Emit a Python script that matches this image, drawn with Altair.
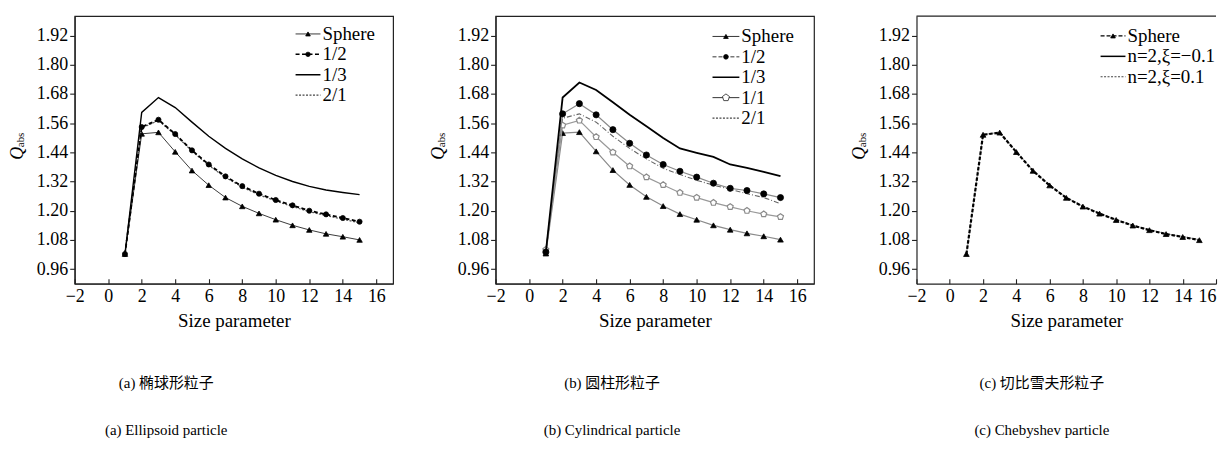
import altair as alt
import pandas as pd

# ---------------- data ----------------
size_param = list(range(1, 16))
x_ticks = [-2, 0, 2, 4, 6, 8, 10, 12, 14, 16]
y_ticks = [0.96, 1.08, 1.20, 1.32, 1.44, 1.56, 1.68, 1.80, 1.92]

# (a) ellipsoid
ell_sphere = [1.022, 1.516, 1.522, 1.442, 1.365, 1.305, 1.254, 1.218, 1.189, 1.163, 1.140, 1.121, 1.105, 1.093, 1.080]
ell_12 = [1.022, 1.544, 1.574, 1.515, 1.448, 1.390, 1.341, 1.301, 1.270, 1.244, 1.222, 1.200, 1.185, 1.170, 1.155]
ell_13 = [1.022, 1.604, 1.665, 1.624, 1.564, 1.506, 1.456, 1.413, 1.376, 1.345, 1.320, 1.300, 1.285, 1.275, 1.266]
ell_21 = [1.022, 1.540, 1.571, 1.512, 1.445, 1.386, 1.337, 1.297, 1.265, 1.240, 1.217, 1.196, 1.180, 1.165, 1.150]

# (b) cylinder
cyl_sphere = [1.024, 1.519, 1.523, 1.444, 1.367, 1.306, 1.257, 1.219, 1.186, 1.163, 1.140, 1.122, 1.107, 1.095, 1.081]
cyl_12 = [1.030, 1.598, 1.640, 1.594, 1.533, 1.477, 1.429, 1.390, 1.362, 1.338, 1.313, 1.292, 1.283, 1.269, 1.254]
cyl_13 = [1.030, 1.665, 1.727, 1.696, 1.646, 1.594, 1.547, 1.499, 1.456, 1.438, 1.421, 1.390, 1.376, 1.360, 1.342]
cyl_11 = [1.040, 1.551, 1.571, 1.503, 1.440, 1.383, 1.338, 1.306, 1.274, 1.254, 1.233, 1.216, 1.200, 1.186, 1.175]
cyl_21 = [1.030, 1.580, 1.598, 1.564, 1.506, 1.456, 1.413, 1.374, 1.349, 1.325, 1.305, 1.288, 1.270, 1.254, 1.229]

# (c) Chebyshev
che_sphere = [1.022, 1.513, 1.522, 1.442, 1.365, 1.305, 1.254, 1.218, 1.189, 1.163, 1.140, 1.121, 1.105, 1.093, 1.080]
che_m01 = [1.022, 1.513, 1.522, 1.443, 1.366, 1.306, 1.255, 1.219, 1.190, 1.164, 1.141, 1.122, 1.106, 1.094, 1.081]
che_p01 = [1.022, 1.512, 1.521, 1.441, 1.364, 1.304, 1.253, 1.217, 1.188, 1.162, 1.139, 1.120, 1.104, 1.092, 1.079]

legend_a = ["Sphere", "1/2", "1/3", "2/1"]
legend_b = ["Sphere", "1/2", "1/3", "1/1", "2/1"]
legend_c = ["Sphere", "n=2,ξ=−0.1", "n=2,ξ=0.1"]

cap_cn = ["(a) 椭球形粒子", "(b) 圆柱形粒子", "(c) 切比雪夫形粒子"]
cap_en = ["(a) Ellipsoid particle", "(b) Cylindrical particle", "(c) Chebyshev particle"]

# ---------------- styling ----------------
SERIF = "'Liberation Serif', 'Times New Roman', serif"
CJK = "'Liberation Serif', 'Noto Sans CJK SC', serif"
W, H = 320, 269
W3 = 301
X3_MAX = 16.0
PENTAGON = "M0,-1L0.951,-0.309L0.588,0.809L-0.588,0.809L-0.951,-0.309Z"
one = pd.DataFrame({"k": [0]})


def x_enc(xmax, flush_last=False):
    kw = dict(values=x_ticks, title="Size parameter", grid=False, format="d",
              tickSize={"expr": "-5"}, labelPadding=9, titlePadding=6,
              labelFlush=False, labelOverlap=False, titleFontSize=19,
              titleFont=SERIF, titleFontWeight="normal")
    if flush_last:
        kw["labelAlign"] = {"expr": "datum.value >= 16 ? 'right' : 'center'"}
    return alt.X("x:Q", scale=alt.Scale(domain=[-2, xmax], nice=False, zero=False),
                 axis=alt.Axis(**kw))


Y_ENC = alt.Y("q:Q", scale=alt.Scale(domain=[0.9, 2.0], nice=False, zero=False),
              axis=alt.Axis(values=y_ticks, format=".2f", title=None, grid=False,
                            tickSize=5, labelPadding=2, labelOverlap=False))


def series(vals, xenc, color, width, dash=None, shape=None, psize=30,
           fill="black", pstroke="black", pstroke_w=0.8):
    df = pd.DataFrame({"x": size_param, "q": vals})
    lkw = dict(color=color, strokeWidth=width)
    if dash:
        lkw["strokeDash"] = dash
    layers = [alt.Chart(df).mark_line(**lkw).encode(x=xenc, y=Y_ENC)]
    if shape:
        layers.append(alt.Chart(df).mark_point(shape=shape, size=psize, fill=fill,
                                               stroke=pstroke, strokeWidth=pstroke_w,
                                               opacity=1, fillOpacity=1)
                      .encode(x=xenc, y=Y_ENC))
    return layers


def legend_item(label, x0, x1, yy, color, width, dash=None, shape=None, psize=26,
                fill="black", pstroke="black", clip=False):
    df = pd.DataFrame({"label": [label]})
    rkw = dict(color=color, strokeWidth=width)
    if dash:
        rkw["strokeDash"] = dash
    out = [alt.Chart(df).mark_rule(**rkw).encode(
        x=alt.value(x0), x2=alt.value(x1), y=alt.value(yy))]
    if shape:
        out.append(alt.Chart(df).mark_point(shape=shape, size=psize, fill=fill, stroke=pstroke,
                                            strokeWidth=0.8, opacity=1, fillOpacity=1)
                   .encode(x=alt.value((x0 + x1) / 2), y=alt.value(yy)))
    out.append(alt.Chart(df).mark_text(font=SERIF, fontSize=19, align="left", baseline="middle",
                                       color="black", clip=clip)
               .encode(x=alt.value(x1 + 2), y=alt.value(yy), text="label:N"))
    return out


def decorations(i):
    q = alt.Chart(one).mark_text(text="Q", font=SERIF, fontStyle="italic", fontSize=18,
                                 angle=270, align="center", baseline="middle",
                                 color="black").encode(x=alt.value(-57), y=alt.value(138))
    sub = alt.Chart(one).mark_text(text="abs", font=SERIF, fontSize=11, angle=270,
                                   align="center", baseline="middle",
                                   color="black").encode(x=alt.value(-53.5), y=alt.value(124.5))
    cdf = pd.DataFrame({"cn": [cap_cn[i]], "en": [cap_en[i]]})
    cx = [92, 117, 126][i]
    cn = alt.Chart(cdf).mark_text(font=CJK, fontSize=15, align="center", baseline="middle",
                                  color="black").encode(x=alt.value(cx), y=alt.value(369), text="cn:N")
    en = alt.Chart(cdf).mark_text(font=SERIF, fontSize=15, align="center", baseline="middle",
                                  color="black").encode(x=alt.value(cx), y=alt.value(416), text="en:N")
    return [q, sub, cn, en]


# ---------------- panel (a) ----------------
xa = x_enc(17)
pa_layers = []
pa_layers += series(ell_sphere, xa, "#3a3a3a", 1.0, shape="triangle-up", psize=30)
pa_layers += series(ell_21, xa, "#555555", 1.2, dash=[2, 1.5])
pa_layers += series(ell_12, xa, "black", 1.8, dash=[4, 2.5], shape="circle", psize=26)
pa_layers += series(ell_13, xa, "black", 1.4)
ly = [18, 38.5, 59, 79.5]
pa_layers += legend_item(legend_a[0], 222, 247, ly[0], "#3a3a3a", 1.0, shape="triangle-up", psize=22)
pa_layers += legend_item(legend_a[1], 222, 247, ly[1], "black", 1.5, dash=[4, 2.5], shape="circle", psize=20)
pa_layers += legend_item(legend_a[2], 222, 247, ly[2], "black", 1.5)
pa_layers += legend_item(legend_a[3], 222, 247, ly[3], "#444444", 1.2, dash=[2, 1.5])
pa_layers += decorations(0)
panel_a = alt.layer(*pa_layers).properties(width=W, height=H)

# ---------------- panel (b) ----------------
xb = x_enc(17)
pb_layers = []
pb_layers += series(cyl_sphere, xb, "#8a8a8a", 1.2, shape="triangle-up", psize=32)
pb_layers += series(cyl_21, xb, "#666666", 1.1, dash=[5, 2, 1, 2])
pb_layers += series(cyl_11, xb, "#999999", 1.2, shape=PENTAGON, psize=40, fill="white",
                    pstroke="#8a8a8a", pstroke_w=1.2)
pb_layers += series(cyl_12, xb, "#8a8a8a", 1.2, shape="circle", psize=38)
pb_layers += series(cyl_13, xb, "black", 1.8)
lyb = [20.5, 41, 61.5, 82, 102.5]
pb_layers += legend_item(legend_b[0], 218, 245, lyb[0], "#333333", 1.0, shape="triangle-up", psize=22)
pb_layers += legend_item(legend_b[1], 218, 245, lyb[1], "#333333", 1.0, dash=[4, 2], shape="circle", psize=22)
pb_layers += legend_item(legend_b[2], 218, 245, lyb[2], "black", 1.5)
pb_layers += legend_item(legend_b[3], 218, 245, lyb[3], "#333333", 1.0, shape=PENTAGON, psize=55,
                         fill="white", pstroke="#222222")
pb_layers += legend_item(legend_b[4], 218, 245, lyb[4], "#444444", 1.2, dash=[2, 1.5])
pb_layers += decorations(1)
panel_b = alt.layer(*pb_layers).properties(width=W, height=H)

# ---------------- panel (c) ----------------
xc = x_enc(X3_MAX, flush_last=True)
pc_layers = []
pc_layers.append(alt.Chart(one).mark_rule(color="#222222", strokeWidth=1.2).encode(
    x=alt.value(0), x2=alt.value(W3), y=alt.value(0)))
pc_layers += series(che_sphere, xc, "#aaaaaa", 0.8)
pc_layers += series(che_m01, xc, "#aaaaaa", 0.8)
pc_layers += series(che_p01, xc, "black", 2.2, dash=[3.5, 1.8], shape="triangle-up", psize=32)
lyc = [20, 40.5, 61]
pc_layers += legend_item(legend_c[0], 185, 210, lyc[0], "black", 1.3, dash=[4, 2], shape="triangle-up", psize=22)
pc_layers += legend_item(legend_c[1], 185, 210, lyc[1], "black", 1.5, clip=True)
pc_layers += legend_item(legend_c[2], 185, 210, lyc[2], "#444444", 1.2, dash=[2, 1.5], clip=True)
pc_layers += decorations(2)
panel_c = alt.layer(*pc_layers).properties(width=W3, height=H,
                                           view=alt.ViewBackground(stroke="transparent"))

chart = (
    alt.hconcat(panel_a, panel_b, panel_c, spacing=35)
    .configure(padding={"left": 0, "top": 5, "right": 0, "bottom": 4}, background="white")
    .configure_view(stroke="#222222", strokeWidth=1.2)
    .configure_axis(labelFont=SERIF, labelFontSize=18, labelColor="black",
                    domainColor="#222222", domainWidth=1.2, tickColor="#222222",
                    tickWidth=1.1, titleColor="black")
)

chart.save("out.html", embed_options={"renderer": "svg", "actions": False})
